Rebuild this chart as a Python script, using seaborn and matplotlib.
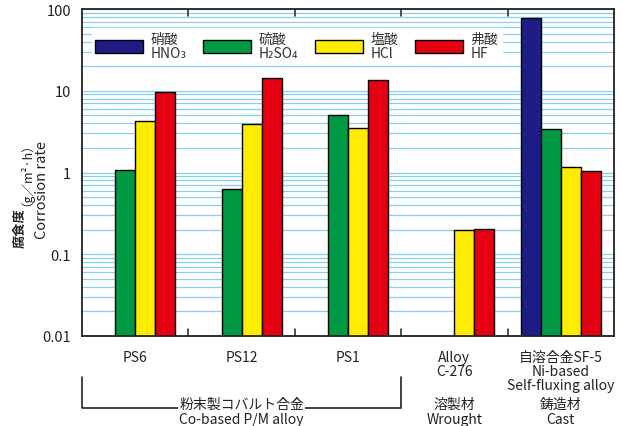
import numpy as np
import pandas as pd
import matplotlib
matplotlib.use("Agg")
import matplotlib.pyplot as plt
import seaborn as sns

# 材料と酸ごとの腐食度 (g/m2·h)
materials = ["PS6", "PS12", "PS1", "Alloy\nC-276", "自溶合金SF-5\nNi-based\nSelf-fluxing alloy"]
acids = ["硝酸\nHNO₃", "硫酸\nH₂SO₄", "塩酸\nHCl", "弗酸\nHF"]
hno3 = [np.nan, np.nan, np.nan, np.nan, 78.0]
h2so4 = [1.06, 0.62, 5.1, np.nan, 3.42]
hcl = [4.3, 3.95, 3.5, 0.199, 1.17]
hf = [9.7, 14.4, 13.7, 0.206, 1.03]
colors = ["#1d1d85", "#009a44", "#ffec00", "#e50012"]

sns.set_theme(style="white")
plt.rcParams['font.family'] = ['Noto Sans CJK JP', 'DejaVu Sans']

rows = []
for acid, vals in zip(acids, [hno3, h2so4, hcl, hf]):
    for m, v in zip(materials, vals):
        rows.append({"material": m, "acid": acid, "rate": v})
df = pd.DataFrame(rows)

fig = plt.figure(figsize=(6.22, 4.27), dpi=100)
ax = fig.add_axes([82 / 622, 1 - 337 / 427, 532 / 622, 327 / 427])

sns.barplot(data=df, x="material", y="rate", hue="acid", order=materials,
            hue_order=acids, palette=colors, width=0.752, edgecolor="black",
            linewidth=1.0, saturation=1, ax=ax, zorder=3)

ax.set_yscale("log")
ax.set_ylim(0.01, 100)
ax.set_xlim(-0.5, 4.5)
ax.set_yticks([0.01, 0.1, 1, 10, 100])
ax.set_yticklabels(["0.01", "0.1", "1", "10", "100"])
ax.yaxis.grid(True, which="both", color="#86cfee", linewidth=0.9, zorder=0)
ax.tick_params(axis="y", which="both", length=0, labelsize=10.5, colors="#222222", pad=8)
ax.set_axisbelow(True)
ax.tick_params(axis="x", which="major", length=0, labelsize=10, pad=10, colors="#222222")
for lab in ax.get_xticklabels():
    lab.set_linespacing(1.0)

# 区切りの目盛 (上下の内向き)
tr = ax.get_xaxis_transform()
for xb in [0.5, 1.5, 2.5, 3.5]:
    ax.plot([xb, xb], [0, 0.022], color="#222222", linewidth=1.1, transform=tr, zorder=5)
    ax.plot([xb, xb], [1, 0.978], color="#222222", linewidth=1.1, transform=tr, zorder=5)

for s in ax.spines.values():
    s.set_color("#222222")
    s.set_linewidth(1.3)
    s.set_zorder(6)

ax.set_xlabel("")
ax.set_ylabel("Corrosion rate", fontsize=10.5, color="#222222")
ax.yaxis.set_label_coords(-0.062, 0.45)
ax.text(-0.109, 0.272, "腐食度", transform=ax.transAxes, rotation=90,
        rotation_mode="anchor", ha="left", va="baseline", fontsize=9.5,
        fontweight="bold", color="#222222")
ax.text(-0.109, 0.402, "（g／m²·h）", transform=ax.transAxes, rotation=90,
        rotation_mode="anchor", ha="left", va="baseline", fontsize=9,
        color="#222222")

leg = ax.legend(loc="upper left", bbox_to_anchor=(0.005, 0.962), ncol=4,
                frameon=True, fancybox=False, framealpha=1, edgecolor="white",
                facecolor="white", fontsize=10, handlelength=3.45, handleheight=1.1,
                handletextpad=0.55, columnspacing=1.2, borderpad=0.25)
for t in leg.get_texts():
    t.set_color("#333333")
    t.set_linespacing(1.0)
leg.set_zorder(4)

# 下部の分類ラベル
ax.plot([-0.5, -0.5, 2.5, 2.5], [-0.125, -0.22, -0.22, -0.125], color="#222222",
        linewidth=1.2, transform=tr, clip_on=False)
ax.text(1, -0.207, "粉末製コバルト合金", transform=tr, ha="center", va="center",
        fontsize=10, color="#222222", bbox=dict(facecolor="white", edgecolor="none", pad=1))
ax.text(1, -0.255, "Co-based P/M alloy", transform=tr, ha="center", va="center",
        fontsize=10, color="#222222")
for xc, jp, en in [(3, "溶製材", "Wrought"), (4, "鋳造材", "Cast")]:
    ax.text(xc, -0.207, jp, transform=tr, ha="center", va="center",
            fontsize=10, color="#222222")
    ax.text(xc, -0.255, en, transform=tr, ha="center", va="center",
            fontsize=10, color="#222222")

fig.savefig("out.png", dpi=100)
